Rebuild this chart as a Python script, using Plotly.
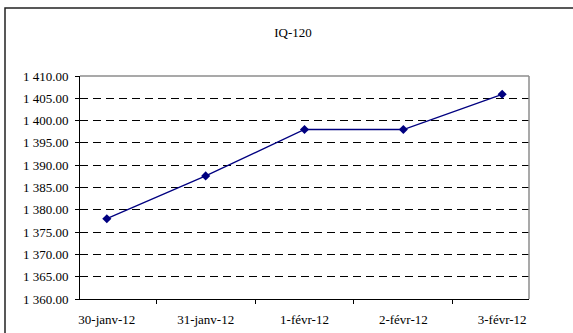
import plotly.graph_objects as go

# Daily closing values of the IQ-120 index
dates = ["30-janv-12", "31-janv-12", "1-févr-12", "2-févr-12", "3-févr-12"]
values = [1378.0, 1387.6, 1398.0, 1398.0, 1405.9]

y_min, y_max, y_step = 1360, 1410, 5

W, H = 573, 333
ml, mr, mt, mb = 80, 44, 76, 34
plot_w = W - ml - mr
plot_h = H - mt - mb

font = dict(family="Liberation Serif, Times New Roman, serif", size=13, color="black")

fig = go.Figure(
    go.Scatter(
        x=dates,
        y=values,
        mode="lines+markers",
        line=dict(color="#000080", width=1.3),
        marker=dict(symbol="diamond", size=7, color="#000080"),
        showlegend=False,
        cliponaxis=False,
    )
)

# outer chart frame, extending past the right and bottom edges of the page
fx0 = (5 - ml) / plot_w
fx1 = (W + 30 - ml) / plot_w
fy1 = (H - mb - 8) / plot_h
fy0 = (H - mb - (H + 30)) / plot_h

fig.update_layout(
    width=W,
    height=H,
    margin=dict(l=ml, r=mr, t=mt, b=mb),
    paper_bgcolor="white",
    plot_bgcolor="white",
    font=font,
    separators=". ",
    title=dict(
        text="IQ-120",
        x=293 / W,
        xref="container",
        xanchor="center",
        y=1 - 32 / H,
        yref="container",
        yanchor="middle",
        font=font,
    ),
    xaxis=dict(
        type="category",
        automargin=False,
        showline=True,
        linecolor="black",
        linewidth=1,
        ticks="outside",
        tickson="boundaries",
        ticklen=4,
        tickcolor="black",
        showgrid=False,
        zeroline=False,
        tickfont=font,
        ticklabelstandoff=8,
    ),
    yaxis=dict(
        range=[y_min, y_max],
        automargin=False,
        dtick=y_step,
        tick0=y_min,
        tickformat=",.2f",
        showline=True,
        linecolor="black",
        linewidth=1,
        ticks="outside",
        ticklen=4,
        tickcolor="black",
        showgrid=True,
        gridcolor="black",
        gridwidth=1,
        griddash="8px,5px",
        zeroline=False,
        tickfont=font,
        ticklabelstandoff=4,
    ),
    shapes=[
        dict(type="rect", xref="paper", yref="paper", x0=fx0, x1=fx1, y0=fy0, y1=fy1,
             line=dict(color="#222222", width=1.5), layer="below"),
        dict(type="line", xref="paper", yref="paper", x0=0, x1=1, y0=1, y1=1,
             line=dict(color="#8c8c8c", width=1.5), layer="above"),
        dict(type="line", xref="paper", yref="paper", x0=1, x1=1, y0=0, y1=1,
             line=dict(color="#8c8c8c", width=1.5), layer="above"),
    ],
)

fig.write_html("out.html")
